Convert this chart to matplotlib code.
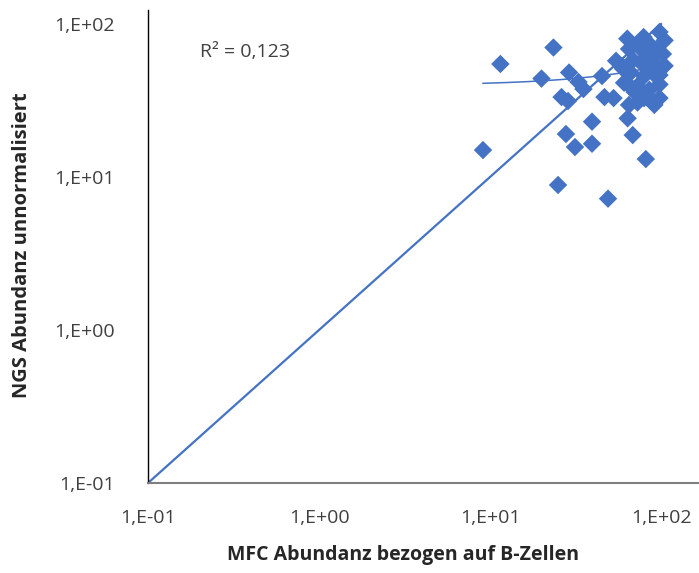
import numpy as np
import matplotlib
matplotlib.use("Agg")
import matplotlib.pyplot as plt

plt.rcParams['font.family'] = ['Open Sans', 'DejaVu Sans']

# Data (MFC abundance vs NGS abundance)
mfc = [9.1, 11.5, 23.5, 20.0, 29.0, 32.9, 35.2, 26.2, 28.6, 45.2, 54.6, 46.7,
       52.8, 39.5, 27.8, 31.4, 39.5, 63.8, 68.3, 81.5, 25.0, 49.0,
       63.5, 79.1, 98.0, 105.0, 102.6, 105.0, 98.0, 98.0, 91.4, 72.9, 65.0,
       65.0, 66.5, 60.8, 76.2, 87.4, 76.2, 89.4, 79.6, 91.0, 72.9, 85.5,
       79.6, 68.6, 70.0, 84.0, 95.0, 60.0,
       72.4, 83.9, 67.6, 93.5, 59.2, 83.9, 98.0]
ngs = [15.0, 54.8, 70.2, 44.0, 48.2, 41.8, 37.6, 33.3, 31.4, 45.7, 57.5, 33.3,
       32.8, 23.0, 19.1, 15.7, 16.5, 24.2, 18.8, 13.1, 8.87, 7.22,
       80.2, 82.2, 88.7, 78.2, 63.7, 53.3, 40.3, 32.8, 29.6, 30.7, 29.6,
       68.7, 48.1, 41.3, 68.7, 72.3, 56.0, 59.0, 45.7, 47.1, 39.4, 37.2,
       32.8, 58.2, 36.0, 52.0, 68.0, 51.0,
       74.0, 33.3, 38.2, 53.1, 53.1, 62.7, 46.4]

# Linear trendline coefficients (Excel), y = intercept + slope * x
trend_intercept = 39.7
trend_slope = 0.14

r2_text = "R² = 0,123"
x_ticks = [0.1, 1, 10, 100]
x_ticklabels = ["1,E-01", "1,E+00", "1,E+01", "1,E+02"]
y_ticks = [0.1, 1, 10, 100]
y_ticklabels = ["1,E-01", "1,E+00", "1,E+01", "1,E+02"]
x_label = "MFC Abundanz bezogen auf B-Zellen"
y_label = "NGS Abundanz unnormalisiert"

blue = "#4472C4"

fig = plt.figure(figsize=(6.99, 5.73), dpi=100)
ax = fig.add_axes([148/699, 1-483/573, 1-148/699, (483-10)/573])
ax.set_xscale('log')
ax.set_yscale('log')
ax.set_xlim(0.1, 166.8)
ax.set_ylim(0.1, 123.5)

# identity line
ax.plot([0.1, 100], [0.1, 100], color=blue, lw=1.6, zorder=2)

# linear trend line across the data range
xs = np.array(mfc)
xt = np.linspace(xs.min(), xs.max(), 200)
ax.plot(xt, trend_intercept + trend_slope*xt, color=blue, lw=1.1, zorder=2)

ax.scatter(mfc, ngs, marker='D', s=88, color=blue, edgecolors='none', zorder=3)

for s in ['top', 'right']:
    ax.spines[s].set_visible(False)
ax.spines['left'].set_color('#000000')
ax.spines['left'].set_linewidth(1.0)
ax.spines['bottom'].set_color('#7f7f7f')
ax.spines['bottom'].set_linewidth(1.5)

ax.set_xticks(x_ticks)
ax.set_xticklabels(x_ticklabels)
ax.set_yticks(y_ticks)
ax.set_yticklabels(y_ticklabels)
ax.minorticks_off()
ax.tick_params(axis='both', length=0, labelsize=14, colors='#404040')
ax.tick_params(axis='x', pad=19)
ax.tick_params(axis='y', pad=24)

fig.text(403/699, 1-555/573, x_label, ha='center', va='center',
         fontsize=14, fontweight='bold', color='#262626')
fig.text(22/699, 1-245/573, y_label, ha='center', va='center', rotation=90,
         fontsize=14.5, fontweight='bold', color='#262626')
fig.text(200/699, 1-52/573, r2_text, ha='left', va='center', fontsize=14,
         color='#404040')

fig.savefig("out.png", dpi=100)
